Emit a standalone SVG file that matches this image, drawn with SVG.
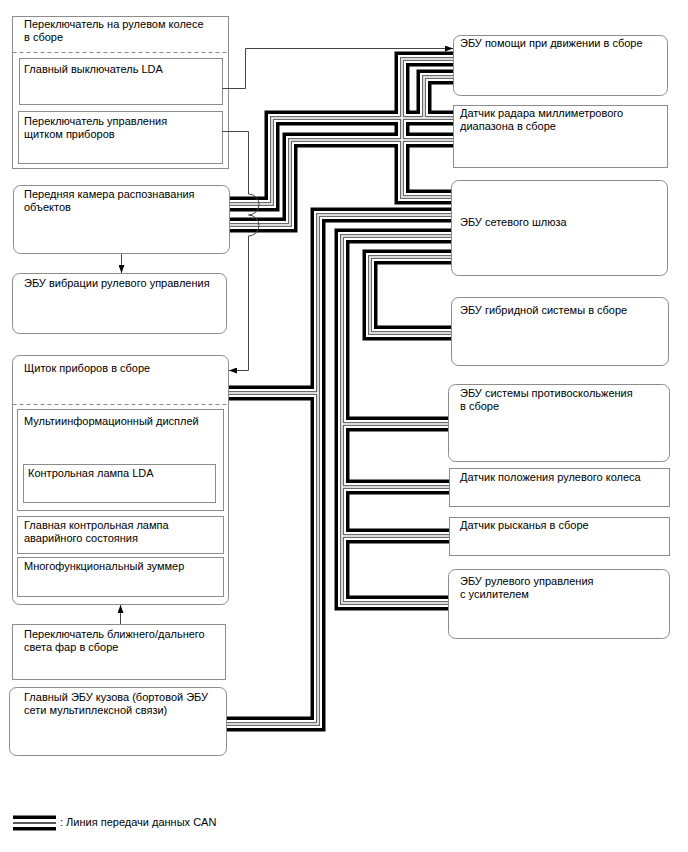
<svg xmlns="http://www.w3.org/2000/svg" width="688" height="852" viewBox="0 0 688 852">
<defs>
<marker id="ah" viewBox="0 0 8 6" refX="8" refY="3" markerWidth="8" markerHeight="6" orient="auto" markerUnits="userSpaceOnUse"><path d="M0,0 L8,3 L0,6 z" fill="#000"/></marker>
</defs>
<style>
text{font-family:"Liberation Sans",Arial,sans-serif;font-size:11px;fill:#000}
.bx{fill:#fff;stroke:#8c8c8c;stroke-width:1}
.ds{fill:none;stroke:#8c8c8c;stroke-width:1;stroke-dasharray:4 3}
.cn{fill:none;stroke:#444;stroke-width:1}
.b1{fill:none;stroke:#000;stroke-width:15;stroke-linejoin:miter}
.b2{fill:none;stroke:#fff;stroke-width:8;stroke-linejoin:miter}
.b3{fill:none;stroke:#6a6a6a;stroke-width:4;stroke-linejoin:miter}
.b4{fill:none;stroke:#fff;stroke-width:1.5;stroke-linejoin:miter}
.lg{fill:none;stroke:#222;stroke-width:1.6}
</style>
<rect width="688" height="852" fill="#fff"/>

<g id="steering-switch">
<rect class="bx" x="12.5" y="16.5" width="216" height="152"/>
<line class="ds" x1="12.5" y1="52.5" x2="228.5" y2="52.5"/>
<text x="24" y="28">Переключатель на рулевом колесе</text>
<text x="24" y="41">в сборе</text>
</g>
<g id="lda-main-switch">
<rect class="bx" x="19.5" y="58.5" width="203" height="46"/>
<text x="24" y="73">Главный выключатель LDA</text>
</g>
<g id="meter-control-switch">
<rect class="bx" x="18.5" y="111.5" width="204" height="52"/>
<text x="24" y="125">Переключатель управления</text>
<text x="24" y="138">щитком приборов</text>
</g>
<g id="camera">
<rect class="bx" x="13.5" y="185.5" width="216" height="68" rx="7"/>
<text x="24" y="198">Передняя камера распознавания</text>
<text x="24" y="211">объектов</text>
</g>
<g id="vibration-ecu">
<rect class="bx" x="12.5" y="273.5" width="214" height="60" rx="7"/>
<text x="24" y="287">ЭБУ вибрации рулевого управления</text>
</g>
<g id="meter">
<rect class="bx" x="12.5" y="355.5" width="216" height="249" rx="7"/>
<line class="ds" x1="12.5" y1="404.5" x2="228.5" y2="404.5"/>
<text x="24" y="372">Щиток приборов в сборе</text>
</g>
<g id="mid">
<rect class="bx" x="17.5" y="409.5" width="206" height="101"/>
<text x="24" y="425">Мультиинформационный дисплей</text>
</g>
<g id="lda-lamp">
<rect class="bx" x="23.5" y="464.5" width="192" height="38"/>
<text x="28" y="477">Контрольная лампа LDA</text>
</g>
<g id="master-warning">
<rect class="bx" x="17.5" y="516.5" width="206" height="37"/>
<text x="24" y="529">Главная контрольная лампа</text>
<text x="24" y="542">аварийного состояния</text>
</g>
<g id="buzzer">
<rect class="bx" x="17.5" y="557.5" width="206" height="39"/>
<text x="24" y="570">Многофункциональный зуммер</text>
</g>
<g id="headlight-switch">
<rect class="bx" x="12.5" y="624.5" width="213" height="55"/>
<text x="24" y="638">Переключатель ближнего/дальнего</text>
<text x="24" y="651">света фар в сборе</text>
</g>
<g id="body-ecu">
<rect class="bx" x="9.5" y="687.5" width="217" height="68" rx="7"/>
<text x="24" y="701">Главный ЭБУ кузова (бортовой ЭБУ</text>
<text x="24" y="714">сети мультиплексной связи)</text>
</g>

<g id="driving-support-ecu">
<rect class="bx" x="453.5" y="35.5" width="214" height="60" rx="7"/>
<text x="460" y="47">ЭБУ помощи при движении в сборе</text>
</g>
<g id="radar">
<rect class="bx" x="453.5" y="105.5" width="214" height="62"/>
<text x="460" y="117">Датчик радара миллиметрового</text>
<text x="460" y="130">диапазона в сборе</text>
</g>
<g id="gateway">
<rect class="bx" x="451.5" y="180.5" width="216" height="95" rx="7"/>
<text x="460" y="226">ЭБУ сетевого шлюза</text>
</g>
<g id="hybrid">
<rect class="bx" x="451.5" y="297.5" width="217" height="68" rx="7"/>
<text x="460" y="314">ЭБУ гибридной системы в сборе</text>
</g>
<g id="skid">
<rect class="bx" x="448.5" y="384.5" width="221" height="77" rx="7"/>
<text x="460" y="397">ЭБУ системы противоскольжения</text>
<text x="460" y="410">в сборе</text>
</g>
<g id="steering-sensor">
<rect class="bx" x="449.5" y="468.5" width="220" height="38"/>
<text x="460" y="481">Датчик положения рулевого колеса</text>
</g>
<g id="yaw">
<rect class="bx" x="449.5" y="517.5" width="220" height="38"/>
<text x="460" y="529">Датчик рысканья в сборе</text>
</g>
<g id="eps">
<rect class="bx" x="448.5" y="569.5" width="221" height="69" rx="7"/>
<text x="460" y="585">ЭБУ рулевого управления</text>
<text x="460" y="598">с усилителем</text>
</g>

<g id="connectors">
<g id="can-top">
<path class="b1" d="M453,59 H402 V197 H451 M453,77 H424 V118 M230,204 H272 V118 H453 M230,225 H290 V140 H453"/>
<path class="b2" d="M453,59 H402 V197 H451 M453,77 H424 V118 M230,204 H272 V118 H453 M230,225 H290 V140 H453"/>
<path class="b3" d="M453,59 H402 V197 H451 M453,77 H424 V118 M230,204 H272 V118 H453 M230,225 H290 V140 H453"/>
<path class="b4" d="M453,59 H402 V197 H451 M453,77 H424 V118 M230,204 H272 V118 H453 M230,225 H290 V140 H453"/>
</g>
<g id="can-main">
<path class="b1" d="M451,215 H318 V724 H227 M318,393 H229 M451,236 H342 V603 H448 M342,424 H448 M342,487 H449 M342,536 H449 M451,257 H370 V333 H451"/>
<path class="b2" d="M451,215 H318 V724 H227 M318,393 H229 M451,236 H342 V603 H448 M342,424 H448 M342,487 H449 M342,536 H449 M451,257 H370 V333 H451"/>
<path class="b3" d="M451,215 H318 V724 H227 M318,393 H229 M451,236 H342 V603 H448 M342,424 H448 M342,487 H449 M342,536 H449 M451,257 H370 V333 H451"/>
<path class="b4" d="M451,215 H318 V724 H227 M318,393 H229 M451,236 H342 V603 H448 M342,424 H448 M342,487 H449 M342,536 H449 M451,257 H370 V333 H451"/>
</g>
<path class="cn" d="M222.5,88.5 H245.5 V48.5 H453" marker-end="url(#ah)"/>
<path class="cn" d="M222.5,131.5 H248.5 V194 A10.5,10.5 0 0 1 248.5,215 A10.5,10.5 0 0 1 248.5,236 V370.5 H229" marker-end="url(#ah)"/>
<path class="cn" d="M121.5,254 V273" marker-end="url(#ah)"/>
<path class="cn" d="M120.5,624 V605" marker-end="url(#ah)"/>
</g>

<g id="legend">
<path class="b1" d="M13,823 H56"/>
<path class="b2" d="M13,823 H56"/>
<path class="lg" d="M13,823 H56"/>
<text x="60" y="826">: Линия передачи данных CAN</text>
</g>
</svg>
